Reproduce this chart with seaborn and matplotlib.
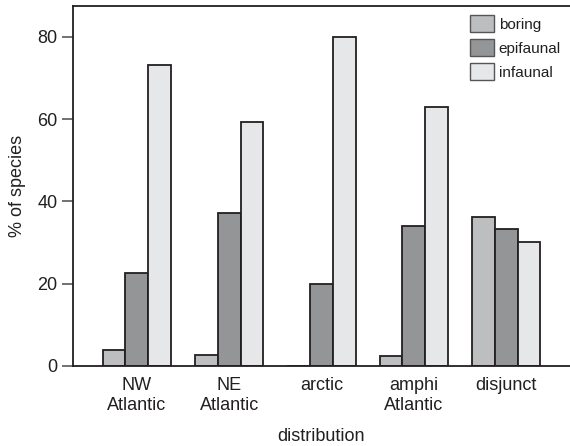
import pandas as pd
import seaborn as sns
import matplotlib.pyplot as plt

categories = ["NW\nAtlantic", "NE\nAtlantic", "arctic", "amphi\nAtlantic", "disjunct"]
boring = [3.9, 2.7, 0.0, 2.4, 36.3]
epifaunal = [22.5, 37.3, 19.9, 34.0, 33.2]
infaunal = [73.1, 59.4, 80.0, 63.0, 30.1]

groups = ["boring", "epifaunal", "infaunal"]
colors = ["#bdbec0", "#939598", "#e6e7e8"]

rows = []
for name, vals in zip(groups, [boring, epifaunal, infaunal]):
    for cat, v in zip(categories, vals):
        rows.append({"distribution": cat, "type": name, "pct": v})
df = pd.DataFrame(rows)

sns.set_style("white")
plt.rcParams["font.family"] = ["Liberation Sans", "DejaVu Sans"]
plt.rcParams["text.color"] = "#231f20"
plt.rcParams["axes.labelcolor"] = "#231f20"
plt.rcParams["xtick.color"] = "#231f20"
plt.rcParams["ytick.color"] = "#231f20"

fig = plt.figure(figsize=(5.7, 4.46), dpi=100)
ax = fig.add_axes([73 / 570, 1 - 366 / 446, 497 / 570, 360 / 446])

sns.barplot(data=df, x="distribution", y="pct", hue="type", palette=colors,
            width=0.74, edgecolor="#231f20", linewidth=1.3, ax=ax)

ax.set_xlim(-0.69, 4.69)
ax.set_ylim(0, 87.5)
ax.set_yticks([0, 20, 40, 60, 80])
ax.tick_params(axis="y", length=8, width=1.3, left=True, labelsize=13, pad=3)
ax.tick_params(axis="x", length=0, labelsize=13, pad=8)
for t in ax.yaxis.get_ticklines():
    t.set_markeredgecolor("#666666")
for lab in ax.get_xticklabels():
    lab.set_linespacing(1.25)
ax.set_ylabel("% of species", fontsize=13, labelpad=8)
ax.set_xlabel("distribution", fontsize=13, labelpad=10)

for s in ["left", "bottom", "top"]:
    ax.spines[s].set_color("#231f20")
    ax.spines[s].set_linewidth(1.3)
ax.spines["right"].set_visible(False)

leg = ax.legend(title=None, frameon=False, loc="upper right",
                bbox_to_anchor=(1.0, 1.0), fontsize=11,
                handlelength=1.55, handleheight=1.35, handletextpad=0.3,
                labelspacing=0.45, borderaxespad=0.2)
for h in leg.legend_handles:
    h.set_edgecolor("#555555")
    h.set_linewidth(1.0)

fig.savefig("out.png", dpi=100)
